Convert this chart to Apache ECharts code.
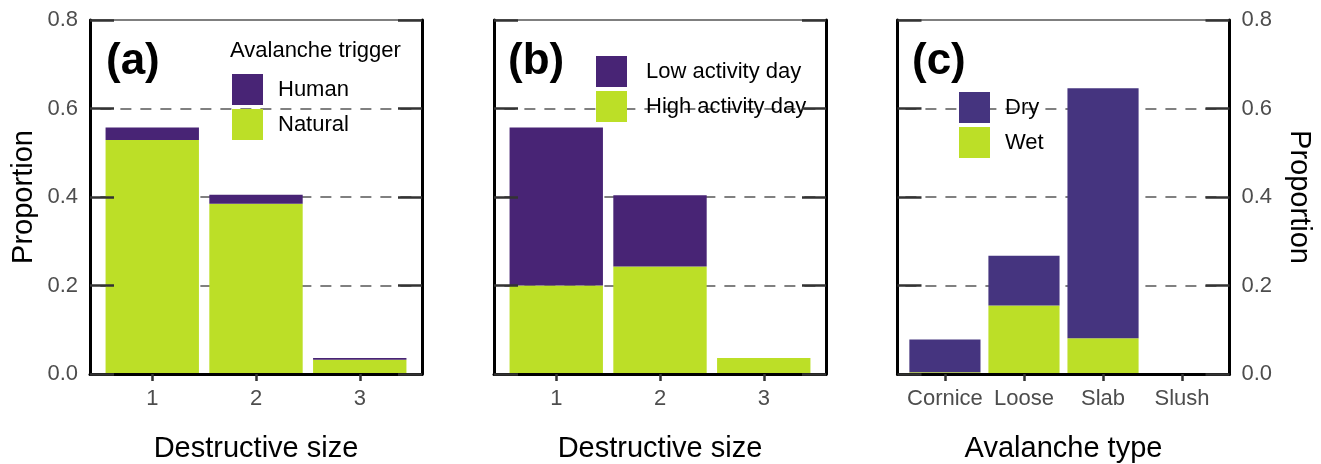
<!DOCTYPE html>
<html>
<head>
<meta charset="utf-8">
<script src="https://cdn.jsdelivr.net/npm/echarts@6/dist/echarts.min.js"></script>
<style>
html,body{margin:0;padding:0;background:#fff;}
#chart{width:1321px;height:464px;}
</style>
</head>
<body>
<div id="chart"></div>
<script>
// ---- data ----
const sizeCategories = ['1', '2', '3'];
const typeCategories = ['Cornice', 'Loose', 'Slab', 'Slush'];

// (a) Avalanche trigger by destructive size
const humanA   = [0.028, 0.020, 0.004];
const naturalA = [0.529, 0.385, 0.032];
// (b) Activity day by destructive size
const lowB  = [0.357, 0.161, 0.000];
const highB = [0.200, 0.243, 0.036];
// (c) Moisture by avalanche type
const dryC = [0.074, 0.112, 0.565, 0.000];
const wetC = [0.004, 0.155, 0.081, 0.000];

const panelLabels = ['(a)', '(b)', '(c)'];
const xTitles = ['Destructive size', 'Destructive size', 'Avalanche type'];
const yTitle = 'Proportion';

// ---- styling ----
const FONT = '"Liberation Sans", Arial, sans-serif';
const PURPLE = '#482475';
const PURPLE_C = '#45347f';
const GREEN = '#bcdf27';
const TICK_GRAY = '#4d4d4d';

const TOP = 20, HEIGHT = 354;
const panels = [
  {outerLeft: 90,    outerWidth: 332, cats: sizeCategories, bottom: naturalA, top: humanA, bName: 'Natural', tName: 'Human', tColor: PURPLE, yLabelsSide: 'left'},
  {outerLeft: 494,   outerWidth: 332, cats: sizeCategories, bottom: highB, top: lowB, bName: 'High activity day', tName: 'Low activity day', tColor: PURPLE, yLabelsSide: 'none'},
  {outerLeft: 897.5, outerWidth: 332, cats: typeCategories, bottom: wetC, top: dryC, bName: 'Wet', tName: 'Dry', tColor: PURPLE_C, yLabelsSide: 'right'}
];

const grids = [], xAxes = [], yAxes = [], series = [];

panels.forEach((p, i) => {
  const n = p.cats.length;
  const step = p.outerWidth / (n + 0.2);
  const innerLeft = p.outerLeft + 0.1 * step;
  const innerWidth = n * step;
  const outerIdx = grids.length;
  grids.push({left: p.outerLeft, top: TOP, width: p.outerWidth, height: HEIGHT, containLabel: false, outerBoundsMode: 'none'});
  const innerIdx = grids.length;
  grids.push({left: innerLeft, top: TOP, width: innerWidth, height: HEIGHT, containLabel: false, outerBoundsMode: 'none'});

  // outer frame axes
  xAxes.push({gridIndex: outerIdx, type: 'value', position: 'bottom', min: 0, max: 1, z: 6,
    axisLine: {show: true, onZero: false, lineStyle: {color: '#000', width: 3}},
    axisTick: {show: false}, axisLabel: {show: false}, splitLine: {show: false}});
  xAxes.push({gridIndex: outerIdx, type: 'value', position: 'top', min: 0, max: 1, z: 5,
    axisLine: {show: true, onZero: false, lineStyle: {color: '#7f7f7f', width: 2}},
    axisTick: {show: false}, axisLabel: {show: false}, splitLine: {show: false}});
  const xi = xAxes.length;
  xAxes.push({gridIndex: innerIdx, type: 'category', data: p.cats, position: 'bottom', z: 6,
    axisLine: {show: false, onZero: false},
    axisTick: {show: true, alignWithLabel: true, length: 7, lineStyle: {color: '#333', width: 2.5}},
    axisLabel: {show: true, interval: 0, margin: 14, color: TICK_GRAY, fontSize: 22, fontFamily: FONT},
    name: xTitles[i], nameLocation: 'middle', nameGap: 60,
    nameTextStyle: {color: '#000', fontSize: 29, fontFamily: FONT},
    splitLine: {show: false}});

  yAxes.push({gridIndex: outerIdx, type: 'value', position: 'left', min: 0, max: 0.8, interval: 0.2, z: 6,
    axisLine: {show: true, onZero: false, lineStyle: {color: '#000', width: 3}},
    axisTick: {show: true, inside: true, length: 24, lineStyle: {color: '#333', width: 2.5}},
    axisLabel: {show: p.yLabelsSide === 'left', margin: 12, color: TICK_GRAY, fontSize: 22, fontFamily: FONT,
      formatter: v => v.toFixed(1)},
    name: p.yLabelsSide === 'left' ? yTitle : '', nameLocation: 'middle', nameGap: 52,
    nameTextStyle: {color: '#000', fontSize: 29, fontFamily: FONT},
    splitLine: {show: false}});
  yAxes.push({gridIndex: outerIdx, type: 'value', position: 'right', min: 0, max: 0.8, interval: 0.2, z: 6,
    axisLine: {show: true, onZero: false, lineStyle: {color: '#000', width: 3}},
    axisTick: {show: true, inside: true, length: 24, lineStyle: {color: '#333', width: 2.5}},
    axisLabel: {show: p.yLabelsSide === 'right', margin: 12, color: TICK_GRAY, fontSize: 22, fontFamily: FONT,
      formatter: v => v.toFixed(1)},
    name: p.yLabelsSide === 'right' ? yTitle : '', nameLocation: 'middle', nameGap: 55, nameRotate: -90,
    nameTextStyle: {color: '#000', fontSize: 29, fontFamily: FONT},
    splitLine: {show: false}});
  const yi = yAxes.length;
  yAxes.push({gridIndex: innerIdx, type: 'value', min: 0, max: 0.8, interval: 0.2, z: 0,
    axisLine: {show: false, onZero: false}, axisTick: {show: false}, axisLabel: {show: false},
    splitLine: {show: true, showMinLine: false, showMaxLine: false,
      lineStyle: {color: '#808080', width: 2, type: [11, 9]}}});

  series.push({type: 'bar', name: p.bName, xAxisIndex: xi, yAxisIndex: yi, stack: 'p' + i,
    barWidth: '90%', data: p.bottom, itemStyle: {color: GREEN}, z: 2});
  series.push({type: 'bar', name: p.tName, xAxisIndex: xi, yAxisIndex: yi, stack: 'p' + i,
    barWidth: '90%', data: p.top, itemStyle: {color: p.tColor}, z: 2});
});

const legendBase = {
  orient: 'vertical', padding: 0, itemWidth: 31, itemHeight: 31, itemGap: 4, icon: 'rect',
  selectedMode: false,
  textStyle: {color: '#000', fontSize: 22, fontFamily: FONT, padding: [0, 0, 0, 10]}
};

const option = {
  animation: false,
  backgroundColor: '#fff',
  grid: grids,
  xAxis: xAxes,
  yAxis: yAxes,
  series: series,
  legend: [
    Object.assign({}, legendBase, {left: 232, top: 74, data: ['Human', 'Natural']}),
    Object.assign({}, legendBase, {left: 596, top: 56, data: ['Low activity day', 'High activity day'],
      textStyle: {color: '#000', fontSize: 22, fontFamily: FONT, padding: [0, 0, 0, 14]}}),
    Object.assign({}, legendBase, {left: 959, top: 92, data: ['Dry', 'Wet']})
  ],
  graphic: [
    {type: 'text', left: 106, top: 40, z: 10, style: {text: panelLabels[0], font: 'bold 44px ' + FONT, fill: '#000'}},
    {type: 'text', left: 508, top: 40, z: 10, style: {text: panelLabels[1], font: 'bold 44px ' + FONT, fill: '#000'}},
    {type: 'text', left: 912, top: 40, z: 10, style: {text: panelLabels[2], font: 'bold 44px ' + FONT, fill: '#000'}},
    {type: 'text', left: 230, top: 40, z: 10, style: {text: 'Avalanche trigger', font: '22px ' + FONT, fill: '#000'}}
  ]
};

const chart = echarts.init(document.getElementById('chart'), null, {renderer: 'canvas'});
chart.setOption(option);
</script>
</body>
</html>
